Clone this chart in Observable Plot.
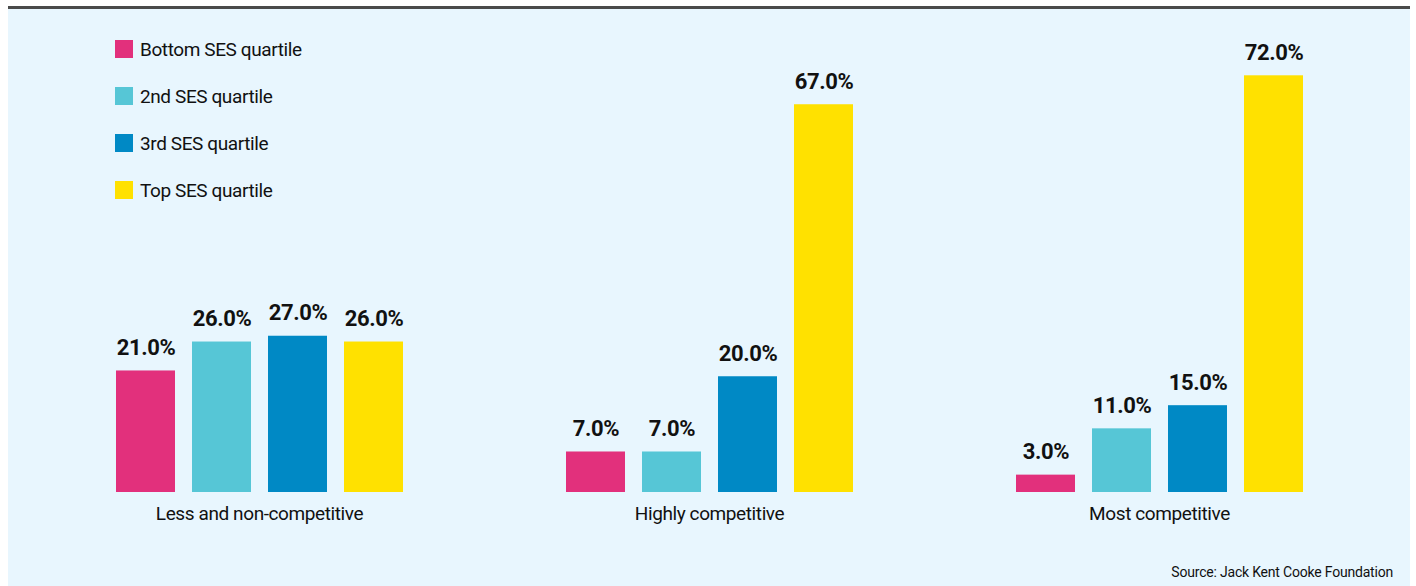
<!DOCTYPE html>
<html>
<head>
<meta charset="utf-8">
<script src="https://cdn.jsdelivr.net/npm/d3@7"></script>
<script src="https://cdn.jsdelivr.net/npm/@observablehq/plot@0.6"></script>
<style>
  html, body { margin: 0; padding: 0; background: #ffffff; }
  #wrap { position: relative; width: 1416px; height: 586px; overflow: hidden; background: #ffffff;
    font-family: Roboto, "Liberation Sans", sans-serif; color: #111; }
  #wrap svg text { letter-spacing: -0.4px; }
  #rule { position: absolute; left: 8px; top: 6px; width: 1402px; height: 3px; background: #4a4a4a; }
  #panel { position: absolute; left: 8px; top: 9px; width: 1402px; height: 577px; background: #e8f6fe; }
  #chart { position: absolute; left: 0; top: 0; }
  #legend { position: absolute; left: 115px; top: 39px; }
  .item { position: absolute; left: 0; height: 22px; white-space: nowrap; font-size: 19px; line-height: 22px; font-weight: 400; letter-spacing: -0.4px; }
  .sw { position: absolute; left: 0; top: 1px; width: 18px; height: 18px; }
  .lab { position: absolute; left: 25px; top: 0; }
  #source { position: absolute; right: 23px; top: 563px; font-size: 14px; line-height: 18px; font-weight: 400; letter-spacing: -0.2px; }
</style>
</head>
<body>
<div id="wrap">
  <div id="rule"></div>
  <div id="panel"></div>
  <div id="chart"></div>
  <div id="legend"></div>
  <div id="source">Source: Jack Kent Cooke Foundation</div>
</div>
<script>
const categories = ["Less and non-competitive", "Highly competitive", "Most competitive"];
const quartiles = ["Bottom SES quartile", "2nd SES quartile", "3rd SES quartile", "Top SES quartile"];
const colors = ["#e2307c", "#56c6d6", "#0089c5", "#ffe100"];
const bottomValues = [21, 7, 3];
const secondValues = [26, 7, 11];
const thirdValues = [27, 20, 15];
const topValues = [26, 67, 72];

const series = [bottomValues, secondValues, thirdValues, topValues];
const data = [];
categories.forEach((c, i) => {
  quartiles.forEach((q, j) => data.push({category: c, quartile: q, value: series[j][i]}));
});

const chart = Plot.plot({
  width: 1416,
  height: 586,
  marginLeft: 115,
  marginRight: 113,
  marginTop: 29,
  marginBottom: 94,
  style: {background: "transparent", fontFamily: 'Roboto, "Liberation Sans", sans-serif', color: "#111"},
  fx: {domain: categories, paddingInner: 0.36, paddingOuter: 0, label: null},
  x: {domain: quartiles, paddingInner: 0.227, paddingOuter: 0, axis: null},
  y: {domain: [0, 80], axis: null},
  color: {domain: quartiles, range: colors},
  marks: [
    Plot.barY(data, {fx: "category", x: "quartile", y: "value", fill: "quartile"}),
    Plot.text(data, {fx: "category", x: "quartile", y: "value",
      text: d => d.value.toFixed(1) + "%", lineAnchor: "bottom", dy: -16,
      fontSize: 22, fontWeight: "bold", fill: "#111"}),
    Plot.axisFx({anchor: "bottom", tickSize: 0, tickPadding: 14, fontSize: 19, fontWeight: 400, label: null, fill: "#111"})
  ]
});
document.getElementById("chart").appendChild(chart);

const legend = document.getElementById("legend");
const cs = chart.scale("color");
cs.domain.forEach((q, i) => {
  const item = document.createElement("div");
  item.className = "item";
  item.style.top = (i * 47) + "px";
  const sw = document.createElement("div");
  sw.className = "sw";
  sw.style.background = cs.range[i];
  const lab = document.createElement("div");
  lab.className = "lab";
  lab.textContent = q;
  item.appendChild(sw);
  item.appendChild(lab);
  legend.appendChild(item);
});
</script>
</body>
</html>
